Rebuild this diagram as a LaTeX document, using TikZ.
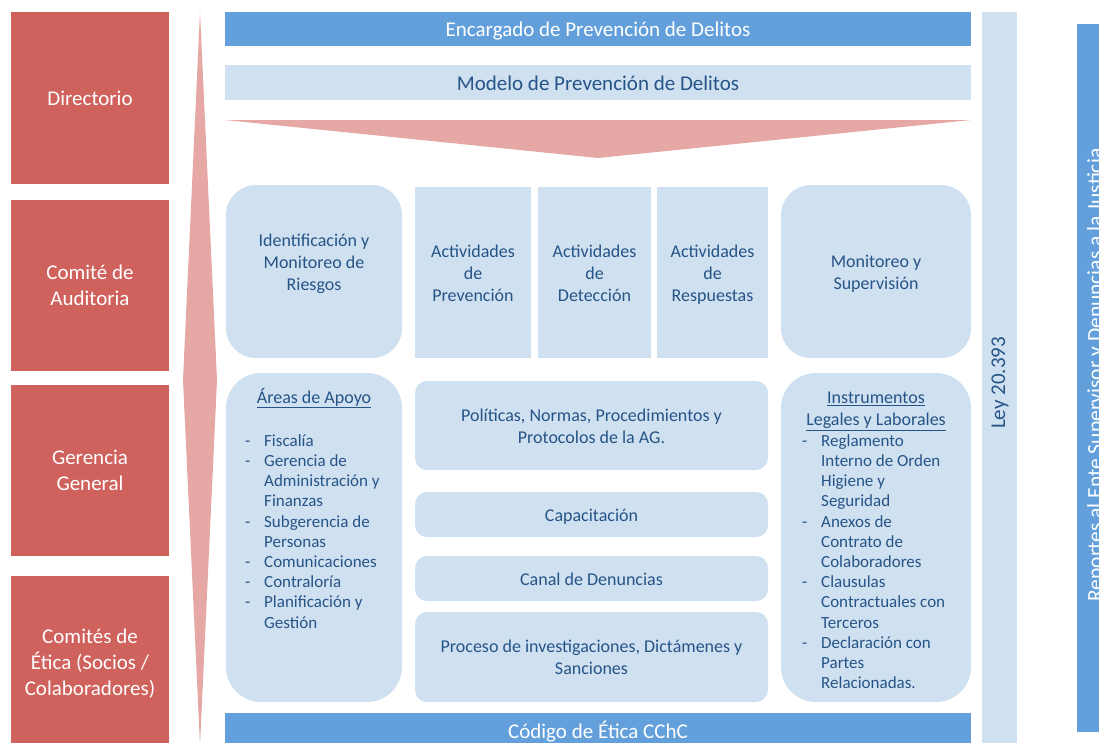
\documentclass[tikz,border=0pt]{standalone}
\usepackage{fontspec}
\setmainfont{Carlito}
\definecolor{redc}{RGB}{208,98,94}
\definecolor{pinkc}{RGB}{229,168,165}
\definecolor{darkbar}{RGB}{99,160,219}
\definecolor{lightbox}{RGB}{207,224,241}
\definecolor{txt}{RGB}{38,84,134}
\newcommand\fBig{\fontsize{21}{26}\selectfont}
\newcommand\fMid{\fontsize{18}{22}\selectfont}
\newcommand\fSm{\fontsize{17}{20.2}\selectfont}
\begin{document}
\begin{tikzpicture}[x=1pt,y=-1pt,
  redbox/.style={fill=redc, draw=none, text=white, font=\fBig, align=center, inner sep=0pt, outer sep=0pt},
  darkbox/.style={fill=darkbar, draw=none, text=white, font=\fBig, align=center, inner sep=0pt, outer sep=0pt},
  lbox/.style={fill=lightbox, draw=none, inner sep=0pt, outer sep=0pt},
  rbox/.style={lbox, rounded corners=30pt},
  sbox/.style={lbox, rounded corners=12pt},
  mtxt/.style={text=txt, font=\fMid, align=center, inner sep=0pt},
  listtxt/.style={text=txt, font=\fSm, inner sep=0pt, anchor=north west},
]
\useasboundingbox (0,0) rectangle (1099,742);
\clip (0,0) rectangle (1099,742);

% left red boxes
\node[redbox, minimum width=158pt, minimum height=172pt] (dir) at (90,98) {Directorio};
\node[redbox, minimum width=158pt, minimum height=171pt] (aud) at (90,285.5) {Comité de\\Auditoria};
\node[redbox, minimum width=158pt, minimum height=171pt] (ger) at (90,470.5) {Gerencia\\General};
\node[redbox, minimum width=158pt, minimum height=176pt] (eti) at (90,664) {Comités de\\Ética (Socios /\\Colaboradores)};

% vertical double arrow
\fill[pinkc] (200,12) -- (217,380) -- (200,745) -- (183,380) -- cycle;

% top bars
\node[darkbox, minimum width=746pt, minimum height=34pt] (enc) at (598,29) {};
\node[text=white, font=\fBig, inner sep=0pt] (enct) at (598,31.5) {Encargado de Prevención de Delitos};
\node[lbox, minimum width=746pt, minimum height=35pt] (mod) at (598,82.5) {};
\node[text=txt, font=\fBig, inner sep=0pt] (modt) at (598,83.5) {Modelo de Prevención de Delitos};

% triangle
\fill[pinkc] (225,120) -- (971,120) -- (598,158) -- cycle;

% row 1
\node[rbox, minimum width=176pt, minimum height=173pt] (ide) at (314,271.5) {};
\node[mtxt] (idet) at (314,264) {Identificación y\\Monitoreo de\\Riesgos};
\node[lbox, minimum width=116pt, minimum height=171pt] (prev) at (473,272.5) {};
\node[mtxt] (prevt) at (473,273) {Actividades\\de\\Prevención};
\node[lbox, minimum width=113pt, minimum height=171pt] (det) at (594.5,272.5) {};
\node[mtxt] (dett) at (594.5,273) {Actividades\\de\\Detección};
\node[lbox, minimum width=111pt, minimum height=171pt] (res) at (712.5,272.5) {};
\node[mtxt] (rest) at (712.5,275) {Actividades\\de\\Respuestas};
\node[rbox, minimum width=190pt, minimum height=173pt] (mon) at (876,271.5) {};
\node[mtxt] (mont) at (876,274) {Monitoreo y\\Supervisión};

% row 2
\node[rbox, rounded corners=35pt, minimum width=176pt, minimum height=329pt] (are) at (314,537.5) {};
\node[mtxt] (areh) at (314,398) {\underline{Áreas de Apoyo}};
\node[listtxt] (arel) at (245,432) {\begin{tabular}{@{}p{19pt}@{}l@{}}
- & Fiscalía\\
- & Gerencia de\\
  & Administración y\\
  & Finanzas\\
- & Subgerencia de\\
  & Personas\\
- & Comunicaciones\\
- & Contraloría\\
- & Planificación y\\
  & Gestión
\end{tabular}};

\node[sbox, minimum width=353pt, minimum height=89pt] (pol) at (591.5,425.5) {};
\node[mtxt] (polt) at (591.5,426) {Políticas, Normas, Procedimientos y\\Protocolos de la AG.};
\node[sbox, minimum width=353pt, minimum height=45pt] (cap) at (591.5,514.5) {};
\node[mtxt] (capt) at (591.5,517) {Capacitación};
\node[sbox, minimum width=353pt, minimum height=45pt] (can) at (591.5,578.5) {};
\node[mtxt] (cant) at (591.5,579) {Canal de Denuncias};
\node[sbox, minimum width=353pt, minimum height=90pt] (pro) at (591.5,657) {};
\node[mtxt] (prot) at (591.5,657) {Proceso de investigaciones, Dictámenes y\\Sanciones};

\node[rbox, rounded corners=35pt, minimum width=190pt, minimum height=329pt] (ins) at (876,537.5) {};
\node[mtxt] (insh) at (876,411) {\underline{Instrumentos}\\\underline{Legales y Laborales}};
\node[listtxt] (insl) at (802,432) {\begin{tabular}{@{}p{19pt}@{}l@{}}
- & Reglamento\\
  & Interno de Orden\\
  & Higiene y\\
  & Seguridad\\
- & Anexos de\\
  & Contrato de\\
  & Colaboradores\\
- & Clausulas\\
  & Contractuales con\\
  & Terceros\\
- & Declaración con\\
  & Partes\\
  & Relacionadas.
\end{tabular}};

% bottom bar
\node[darkbox, minimum width=746pt, minimum height=38pt] (cod) at (598,732) {Código de Ética CChC};

% Ley column
\node[lbox, minimum width=35pt, minimum height=740pt] (ley) at (999.5,382) {};
\node[text=txt, font=\fontsize{21}{25}\selectfont, rotate=90, inner sep=0pt] (leyt) at (1000,383) {Ley 20.393};

% right column
\node[fill=darkbar, draw=none, inner sep=0pt, minimum width=30pt, minimum height=708pt] (rep) at (1092,378) {};
\node[text=white, font=\fontsize{21.5}{25}\selectfont, rotate=90, anchor=base, inner sep=0pt] (rept) at (1102,375) {Reportes al Ente Supervisor y Denuncias a la Justicia};
\end{tikzpicture}
\end{document}
